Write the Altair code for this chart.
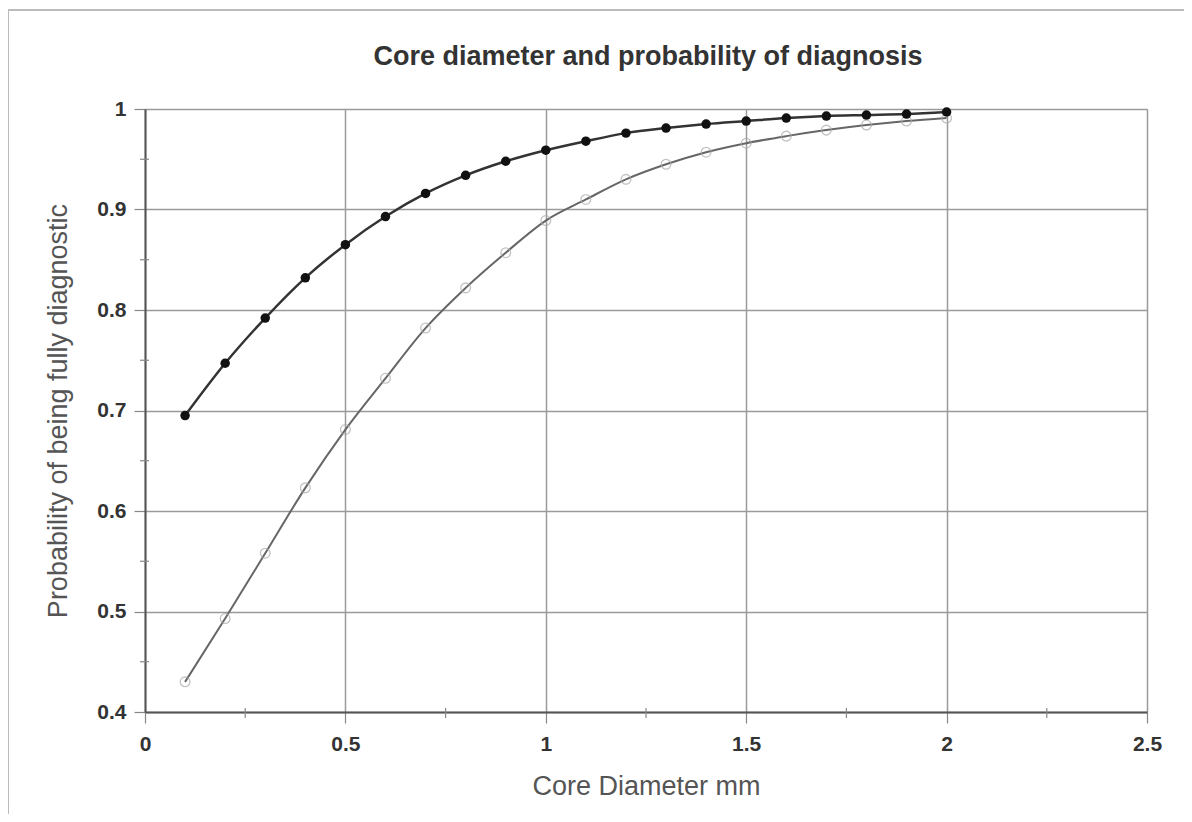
import altair as alt
import pandas as pd

diameter = [0.1, 0.2, 0.3, 0.4, 0.5, 0.6, 0.7, 0.8, 0.9, 1.0,
            1.1, 1.2, 1.3, 1.4, 1.5, 1.6, 1.7, 1.8, 1.9, 2.0]
filled_series = [0.695, 0.747, 0.792, 0.832, 0.865, 0.893, 0.916, 0.934, 0.948, 0.959,
                 0.968, 0.976, 0.981, 0.985, 0.988, 0.991, 0.993, 0.994, 0.995, 0.997]
open_series = [0.430, 0.493, 0.558, 0.623, 0.681, 0.732, 0.782, 0.822, 0.857, 0.889,
               0.910, 0.930, 0.945, 0.957, 0.966, 0.973, 0.979, 0.984, 0.988, 0.991]
x_major = [0, 0.5, 1, 1.5, 2, 2.5]
y_major = [0.4, 0.5, 0.6, 0.7, 0.8, 0.9, 1.0]
x_minor = [0.25, 0.75, 1.25, 1.75, 2.25]
y_minor = [0.45, 0.55, 0.65, 0.75, 0.85, 0.95]
chart_title = ["Core diameter and probability of diagnosis"]

W, H = 1002, 603
FONT = "Liberation Sans"

df_f = pd.DataFrame({"x": diameter, "y": filled_series})
df_o = pd.DataFrame({"x": diameter, "y": open_series})

xs = alt.Scale(domain=[0, 2.5], nice=False)
ys = alt.Scale(domain=[0.4, 1.0], nice=False)

x_axis = alt.Axis(values=x_major, title="Core Diameter mm", grid=True, gridColor="#9a9a9a",
                  gridWidth=1.5, domainColor="#555", domainWidth=2, tickColor="#888",
                  tickSize=11, tickWidth=1.2, labelFont=FONT, labelFontSize=21,
                  labelFontWeight="bold", labelColor="#333", labelPadding=10,
                  titleFont=FONT, titleFontSize=27, titleFontWeight="normal",
                  titleColor="#555", titlePadding=19, labelFlush=False, format="~g")
y_axis = alt.Axis(values=y_major, title="Probability of being fully diagnostic", grid=True,
                  gridColor="#9a9a9a", gridWidth=1.5, domainColor="#555", domainWidth=2,
                  tickColor="#888", tickSize=11, tickWidth=1.2, labelFont=FONT,
                  labelFontSize=21, labelFontWeight="bold", labelColor="#333",
                  labelPadding=8, titleFont=FONT, titleFontSize=27,
                  titleFontWeight="normal", titleColor="#555", titlePadding=24,
                  labelFlush=False, format="~g")

base_line_o = alt.Chart(df_o).mark_line(color="#666", strokeWidth=2, interpolate="monotone").encode(
    x=alt.X("x:Q", scale=xs, axis=x_axis), y=alt.Y("y:Q", scale=ys, axis=y_axis))
pts_o = alt.Chart(df_o).mark_point(shape="circle", filled=False, color="#aaa", size=95,
                                   strokeWidth=1.3).encode(
    x=alt.X("x:Q", scale=xs), y=alt.Y("y:Q", scale=ys))
line_f = alt.Chart(df_f).mark_line(color="#333", strokeWidth=2.5, interpolate="monotone").encode(
    x=alt.X("x:Q", scale=xs), y=alt.Y("y:Q", scale=ys))
pts_f = alt.Chart(df_f).mark_point(shape="circle", filled=True, color="#111", size=90,
                                   opacity=1).encode(
    x=alt.X("x:Q", scale=xs), y=alt.Y("y:Q", scale=ys))

minor_y = alt.Chart(pd.DataFrame({"v": y_minor})).mark_rule(color="#888", strokeWidth=1.2).encode(
    y=alt.Y("v:Q", scale=ys), x=alt.value(-5), x2=alt.value(4))
minor_x = alt.Chart(pd.DataFrame({"v": x_minor})).mark_rule(color="#888", strokeWidth=1.2).encode(
    x=alt.X("v:Q", scale=xs), y=alt.value(H - 4), y2=alt.value(H + 6))

frame = alt.Chart(pd.DataFrame({"a": [0]})).mark_rect(fill=None, stroke="#bbb", strokeWidth=2).encode(
    x=alt.value(-137), x2=alt.value(1060), y=alt.value(-99), y2=alt.value(706))

title_txt = alt.Chart(pd.DataFrame({"t": chart_title})).mark_text(
    font=FONT, fontSize=27, fontWeight="bold", color="#333", align="center", baseline="middle"
).encode(text="t:N", x=alt.value(W / 2 + 2), y=alt.value(-52))

chart = alt.layer(frame, minor_y, minor_x, base_line_o, pts_o, line_f, pts_f, title_txt).properties(
    width=W, height=H,
    autosize=alt.AutoSizeParams(type="none"),
    padding={"left": 137, "top": 101, "right": 37, "bottom": 102},
).configure_view(stroke="#9a9a9a", strokeWidth=1.5).configure(background="white")

chart.save("out.html", embed_options={"renderer": "svg", "actions": False})
